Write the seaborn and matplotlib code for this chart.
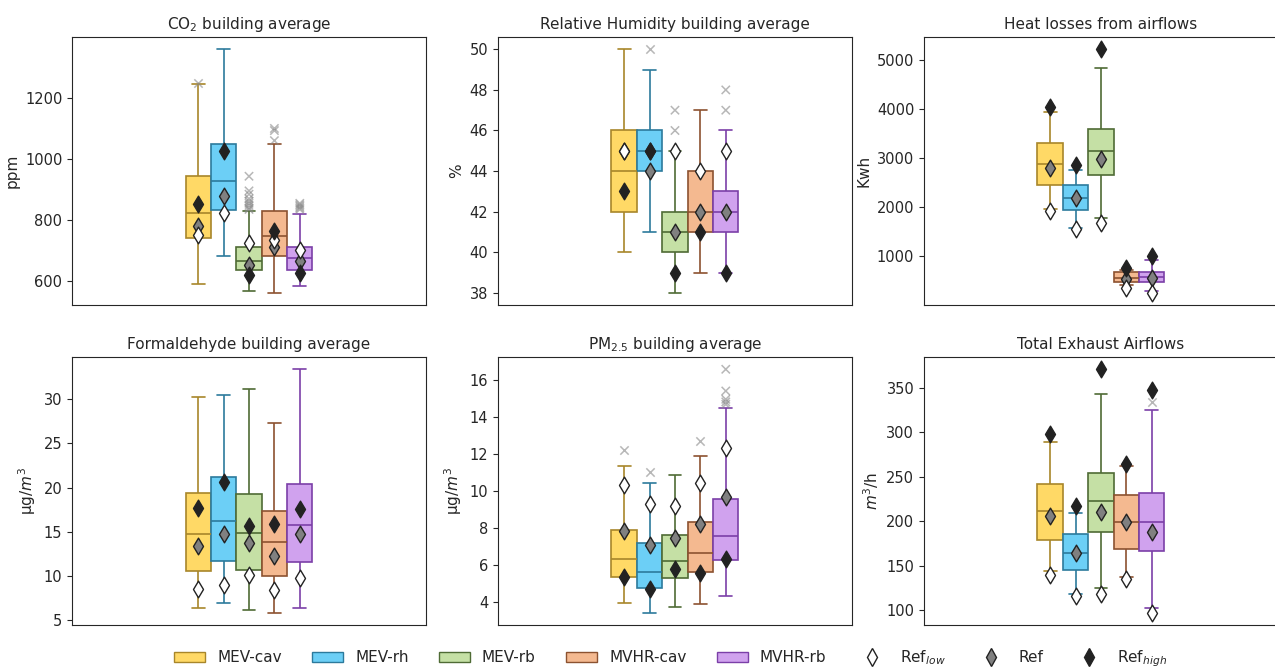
import numpy as np
import pandas as pd
import matplotlib
matplotlib.use("Agg")
import matplotlib.pyplot as plt
import seaborn as sns
from matplotlib.patches import Patch
from matplotlib.lines import Line2D

# systems, fills and darker outline colours
systems = ["MEV-cav", "MEV-rh", "MEV-rb", "MVHR-cav", "MVHR-rb"]
fill_colors = ["#FFD966", "#6CCFF6", "#C5E0A5", "#F4B990", "#D0A2EE"]
edge_colors = ["#A8862A", "#2C7A9C", "#4F6B35", "#8C5230", "#7B3FA8"]

# boxes: [whisker low, Q1, median, Q3, whisker high]
co2_box = [[589, 740, 824, 944, 1246],
           [683, 832, 930, 1051, 1361],
           [567, 637, 667, 713, 829],
           [561, 681, 747, 830, 1049],
           [583, 637, 676, 711, 819]]
co2_low = [752, 824, 726, 734, 701]
co2_ref = [780, 880, 654, 712, 667]
co2_high = [852, 1028, 620, 764, 626]
co2_fliers = {"MEV-cav": [1251],
              "MEV-rb": [944, 896, 885, 870, 862, 855, 848, 840, 835],
              "MVHR-cav": [1061, 1094, 1101],
              "MVHR-rb": [855, 850, 845, 840, 835]}

rh_box = [[40, 42, 44, 46, 50],
          [41, 44, 45, 46, 49],
          [38, 40, 41, 42, 45],
          [39, 41, 42, 44, 47],
          [39, 41, 42, 43, 46]]
rh_low = [45, 45, 45, 44, 45]
rh_ref = [45, 44, 41, 42, 42]
rh_high = [43, 45, 39, 41, 39]
rh_fliers = {"MEV-rh": [50], "MEV-rb": [46, 47], "MVHR-rb": [47, 48]}

heat_box = [[1959, 2449, 2891, 3313, 3946],
            [1578, 1932, 2190, 2449, 2762],
            [1776, 2667, 3150, 3605, 4850],
            [400, 463, 560, 667, 720],
            [292, 470, 570, 670, 930]]
heat_low = [1925, 1551, 1673, 340, 250]
heat_ref = [2810, 2190, 2986, 530, 544]
heat_high = [4054, 2864, 5224, 750, 1010]
heat_fliers = {}

form_box = [[6.3, 10.57, 14.7, 19.4, 30.3],
            [6.9, 11.7, 16.2, 21.2, 30.5],
            [6.1, 10.7, 14.85, 19.3, 31.2],
            [5.8, 9.96, 13.8, 17.3, 27.3],
            [6.4, 11.55, 15.8, 20.4, 33.4]]
form_low = [8.5, 9.0, 10.1, 8.4, 9.8]
form_ref = [13.4, 14.7, 13.7, 12.2, 14.7]
form_high = [17.7, 20.6, 15.6, 15.9, 17.6]
form_fliers = {}

pm_box = [[3.96, 5.35, 6.32, 7.9, 11.33],
          [3.42, 4.75, 5.62, 7.16, 10.4],
          [3.71, 5.31, 6.23, 7.6, 10.87],
          [3.89, 5.62, 6.63, 8.31, 11.87],
          [4.32, 6.27, 7.56, 9.58, 14.45]]
pm_low = [10.32, 9.28, 9.2, 10.45, 12.3]
pm_ref = [7.82, 7.08, 7.44, 8.22, 9.67]
pm_high = [5.37, 4.72, 5.8, 5.55, 6.31]
pm_fliers = {"MEV-cav": [12.23], "MEV-rh": [11.03], "MVHR-cav": [12.67],
             "MVHR-rb": [14.67, 14.8, 14.94, 15.39, 16.56]}

air_box = [[144, 178.6, 211.5, 242.5, 289.7],
           [118.5, 145.3, 165, 185.4, 209.5],
           [125, 187.6, 222.5, 254.5, 343],
           [138, 168.9, 199.3, 229.7, 262],
           [102.6, 167, 198.9, 232, 325]]
air_low = [140, 116.7, 118.3, 135, 97.4]
air_ref = [205.6, 165, 210.6, 199, 188]
air_high = [298.7, 216.9, 370.8, 265, 347.5]
air_fliers = {"MVHR-rb": [334]}

titles = ["CO$_2$ building average", "Relative Humidity building average",
          "Heat losses from airflows", "Formaldehyde building average",
          "PM$_{2.5}$ building average", "Total Exhaust Airflows"]
ylabels = ["ppm", "%", "Kwh", "µg/$m^3$", "µg/$m^3$", "$m^3$/h"]
yticks = [[600, 800, 1000, 1200], [38, 40, 42, 44, 46, 48, 50],
          [1000, 2000, 3000, 4000, 5000], [5, 10, 15, 20, 25, 30],
          [4, 6, 8, 10, 12, 14, 16], [100, 150, 200, 250, 300, 350]]


def long_frame(values_by_system):
    rows = []
    for s, vals in values_by_system:
        for v in vals:
            rows.append((s, v))
    df = pd.DataFrame(rows, columns=["system", "value"])
    df["grp"] = ""
    return df


def draw_panel(ax, box, low, ref, high, fliers, title, ylabel, ticks):
    bdf = long_frame(zip(systems, box))
    sns.boxplot(data=bdf, x="grp", y="value", hue="system", hue_order=systems,
                palette=fill_colors, saturation=1, width=0.8, whis=(0, 100),
                showfliers=False, linewidth=1.2, legend=False, ax=ax)
    # outline each box in a darker shade of its own fill
    for cont, ec in zip(ax.containers, edge_colors):
        for b in cont.boxes:
            b.set_edgecolor(ec)
        for ln in [*cont.whiskers, *cont.caps, *cont.medians]:
            ln.set_color(ec)

    if fliers:
        fdf = long_frame(fliers.items())
        sns.stripplot(data=fdf, x="grp", y="value", hue="system", hue_order=systems,
                      palette=["#888888"] * 5, marker="x", size=6, linewidth=1.1,
                      alpha=0.6, dodge=True, jitter=False, legend=False, ax=ax, zorder=3)

    # reference markers: grey first, then white, black on top
    for vals, col in [(ref, "#808080"), (low, "white"), (high, "#222222")]:
        rdf = long_frame(zip(systems, [[v] for v in vals]))
        sns.stripplot(data=rdf, x="grp", y="value", hue="system", hue_order=systems,
                      palette=[col] * 5, marker="d", size=8.5, edgecolor="#222222",
                      linewidth=1, dodge=True, jitter=False, legend=False, ax=ax, zorder=4)

    ax.set_xlim(-1.115, 1.115)
    ax.set_xticks([])
    ax.set_xlabel("")
    ax.set_yticks(ticks)
    ax.tick_params(axis="y", labelsize=10.5)
    ax.set_title(title, fontsize=11)
    ax.set_ylabel(ylabel, fontsize=11)


def main():
    sns.set_style("ticks")
    plt.rcParams["font.family"] = ["DejaVu Sans"]

    fig = plt.figure(figsize=(12.75, 6.68), dpi=100)
    lefts = [0.0565, 0.3906, 0.7247]
    bottoms = [0.5434, 0.0644]
    w, h = 0.2776, 0.401
    axes = [fig.add_axes([lefts[c], bottoms[r], w, h]) for r in range(2) for c in range(3)]

    panels = [(co2_box, co2_low, co2_ref, co2_high, co2_fliers),
              (rh_box, rh_low, rh_ref, rh_high, rh_fliers),
              (heat_box, heat_low, heat_ref, heat_high, heat_fliers),
              (form_box, form_low, form_ref, form_high, form_fliers),
              (pm_box, pm_low, pm_ref, pm_high, pm_fliers),
              (air_box, air_low, air_ref, air_high, air_fliers)]

    for ax, p, t, yl, tk in zip(axes, panels, titles, ylabels, yticks):
        draw_panel(ax, *p, t, yl, tk)

    handles = [Patch(facecolor=fc, edgecolor=ec, label=s)
               for s, fc, ec in zip(systems, fill_colors, edge_colors)]
    for lab, col in [("Ref$_{low}$", "white"), ("Ref", "#808080"), ("Ref$_{high}$", "#222222")]:
        handles.append(Line2D([], [], marker="d", linestyle="", markersize=9,
                              markerfacecolor=col, markeredgecolor="#222222", label=lab))
    fig.legend(handles=handles, loc="center", bbox_to_anchor=(0.526, 0.014),
               ncol=8, frameon=False, fontsize=11)

    fig.savefig("out.png", dpi=100)


if __name__ == "__main__":
    main()
